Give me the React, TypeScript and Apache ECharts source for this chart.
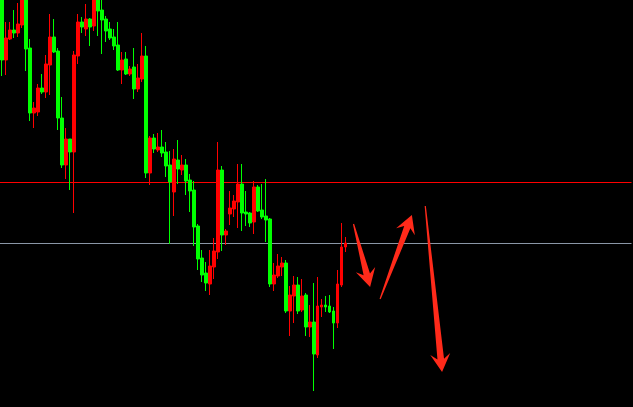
import React, { useEffect, useRef } from "react";
import * as echarts from "echarts";

// Candle prices, one entry per bar
const opens = [
  1.1403, 1.1340, 1.1361, 1.1370, 1.1367, 1.1375, 1.1403, 1.1352, 1.1287, 1.1288,
  1.1312, 1.1308, 1.1335, 1.1363, 1.1349, 1.1282, 1.1235, 1.1261, 1.1248, 1.1344,
  1.1378, 1.1371, 1.1381, 1.1374, 1.1403, 1.1390, 1.1381, 1.1371, 1.1363, 1.1355,
  1.1330, 1.1341, 1.1326, 1.1333, 1.1311, 1.1321, 1.1344, 1.1227, 1.1262, 1.1250,
  1.1253, 1.1248, 1.1235, 1.1208, 1.1240, 1.1230, 1.1235, 1.1220, 1.1210, 1.1174,
  1.1142, 1.1127, 1.1116, 1.1133, 1.1148, 1.1230, 1.1165, 1.1186, 1.1191, 1.1198,
  1.1216, 1.1188, 1.1187, 1.1178, 1.1213, 1.1190, 1.1184, 1.1181, 1.1116, 1.1124,
  1.1133, 1.1137, 1.1089, 1.1104, 1.1115, 1.1090, 1.1105, 1.1073, 1.1078, 1.1045,
  1.1093, 1.1095, 1.1094, 1.1089, 1.1077, 1.1115, 1.1153,
];
const closes = [
  1.1340, 1.1362, 1.1370, 1.1367, 1.1376, 1.1403, 1.1351, 1.1287, 1.1292, 1.1312,
  1.1308, 1.1336, 1.1363, 1.1348, 1.1282, 1.1235, 1.1261, 1.1248, 1.1345, 1.1378,
  1.1373, 1.1381, 1.1373, 1.1403, 1.1389, 1.1380, 1.1369, 1.1362, 1.1354, 1.1330,
  1.1340, 1.1326, 1.1331, 1.1311, 1.1322, 1.1344, 1.1227, 1.1262, 1.1251, 1.1253,
  1.1247, 1.1234, 1.1218, 1.1241, 1.1231, 1.1235, 1.1219, 1.1209, 1.1173, 1.1141,
  1.1125, 1.1117, 1.1134, 1.1149, 1.1230, 1.1165, 1.1169, 1.1192, 1.1199, 1.1216,
  1.1187, 1.1186, 1.1177, 1.1213, 1.1189, 1.1183, 1.1180, 1.1116, 1.1125, 1.1134,
  1.1137, 1.1089, 1.1105, 1.1115, 1.1089, 1.1104, 1.1073, 1.1078, 1.1046, 1.1094,
  1.1095, 1.1093, 1.1088, 1.1077, 1.1116, 1.1153, 1.1157,
];
const lows = [
  1.1324, 1.1325, 1.1360, 1.1362, 1.1363, 1.1372, 1.1329, 1.1279, 1.1272, 1.1284,
  1.1306, 1.1302, 1.1305, 1.1347, 1.1270, 1.1232, 1.1221, 1.1210, 1.1187, 1.1336,
  1.1367, 1.1364, 1.1354, 1.1369, 1.1364, 1.1346, 1.1358, 1.1360, 1.1350, 1.1329,
  1.1316, 1.1325, 1.1324, 1.1301, 1.1308, 1.1318, 1.1222, 1.1215, 1.1247, 1.1248,
  1.1243, 1.1223, 1.1156, 1.1184, 1.1216, 1.1225, 1.1205, 1.1188, 1.1154, 1.1130,
  1.1118, 1.1109, 1.1105, 1.1121, 1.1141, 1.1149, 1.1155, 1.1175, 1.1183, 1.1172,
  1.1169, 1.1174, 1.1173, 1.1166, 1.1188, 1.1181, 1.1158, 1.1113, 1.1109, 1.1122,
  1.1124, 1.1087, 1.1064, 1.1077, 1.1086, 1.1088, 1.1064, 1.1063, 1.1009, 1.1042,
  1.1083, 1.1088, 1.1087, 1.1051, 1.1072, 1.1113, 1.1148,
];
const highs = [
  1.1408, 1.1378, 1.1378, 1.1390, 1.1397, 1.1408, 1.1408, 1.1361, 1.1298, 1.1316,
  1.1326, 1.1345, 1.1386, 1.1381, 1.1352, 1.1303, 1.1272, 1.1261, 1.1349, 1.1386,
  1.1383, 1.1396, 1.1382, 1.1408, 1.1408, 1.1402, 1.1384, 1.1378, 1.1371, 1.1378,
  1.1348, 1.1348, 1.1334, 1.1352, 1.1336, 1.1367, 1.1354, 1.1264, 1.1266, 1.1267,
  1.1270, 1.1258, 1.1249, 1.1251, 1.1260, 1.1245, 1.1241, 1.1226, 1.1219, 1.1176,
  1.1150, 1.1138, 1.1150, 1.1162, 1.1258, 1.1234, 1.1171, 1.1209, 1.1205, 1.1236,
  1.1236, 1.1209, 1.1188, 1.1219, 1.1215, 1.1216, 1.1221, 1.1182, 1.1137, 1.1146,
  1.1143, 1.1140, 1.1114, 1.1124, 1.1123, 1.1121, 1.1107, 1.1095, 1.1117, 1.1123,
  1.1101, 1.1104, 1.1105, 1.1093, 1.1130, 1.1177, 1.1163,
];

// Horizontal price levels
const resistanceLevel = 1.12175;
const supportLevel = 1.11565;

// Total bar slots on the time axis (including empty future slots)
const TOTAL_SLOTS = 158;

// Hand-drawn arrows: [fromBar, fromPrice, toBar, toPrice]
const arrows = [
  [87.95, 1.1176, 92.1, 1.1113],
  [94.6, 1.1101, 102.55, 1.1185],
  [105.9, 1.1194, 110.1, 1.1028],
];

export default function App() {
  const ref = useRef<HTMLDivElement>(null);

  useEffect(() => {
    if (!ref.current) return;
    const chart = echarts.init(ref.current, null, { renderer: "svg" });
    const categories = Array.from({ length: TOTAL_SLOTS }, (_, i) => String(i + 1));
    const candleData = opens.map((o, i) => [o, closes[i], lows[i], highs[i]]);
    const levelLine = (level: number, color: string) => ({
      type: "line",
      xAxisIndex: 1,
      data: [
        [-0.5, level],
        [TOTAL_SLOTS - 0.5, level],
      ],
      symbol: "none",
      silent: true,
      lineStyle: { color, width: 1, type: "solid" },
      z: 1,
    });

    chart.setOption({
      animation: false,
      backgroundColor: "#000000",
      grid: { left: -0.5, top: 0, width: 632, height: 407, containLabel: false },
      xAxis: [
        { type: "category", data: categories, show: false, boundaryGap: true },
        { type: "value", min: -0.5, max: TOTAL_SLOTS - 0.5, show: false },
      ],
      yAxis: { type: "value", min: 1.0993, max: 1.14, show: false, splitLine: { show: false } },
      series: [
        levelLine(resistanceLevel, "#ff0000"),
        levelLine(supportLevel, "#8a96a6"),
        {
          type: "candlestick",
          data: candleData,
          barWidth: 3,
          z: 2,
          itemStyle: {
            color: "#ff0000",
            color0: "#00ff00",
            borderColor: "#ff0000",
            borderColor0: "#00ff00",
            borderWidth: 1,
          },
        },
        {
          type: "custom",
          xAxisIndex: 1,
          data: arrows,
          encode: { x: [0, 2], y: [1, 3] },
          silent: true,
          z: 3,
          renderItem: (params: any, api: any) => {
            const p0 = api.coord([api.value(0), api.value(1)]);
            const p1 = api.coord([api.value(2), api.value(3)]);
            const dx = p1[0] - p0[0];
            const dy = p1[1] - p0[1];
            const L = Math.hypot(dx, dy);
            const ux = dx / L;
            const uy = dy / L;
            const nx = -uy;
            const ny = ux;
            const pt = (a: number, w: number) => [p0[0] + ux * a + nx * w, p0[1] + uy * a + ny * w];
            const headLen = 18;
            const headHalf = 10;
            const neckBack = 13;
            const neckHalf = 3.3;
            const tailHalf = 0.6;
            const points = [
              pt(0, tailHalf),
              pt(L - neckBack, neckHalf),
              pt(L - headLen, headHalf),
              pt(L, 0),
              pt(L - headLen, -headHalf),
              pt(L - neckBack, -neckHalf),
              pt(0, -tailHalf),
            ];
            return {
              type: "polygon",
              shape: { points },
              style: { fill: "#ff2a1a", stroke: "none" },
            };
          },
        },
      ],
    });

    return () => {
      chart.dispose();
    };
  }, []);

  return (
    <div
      ref={ref}
      style={{ position: "absolute", left: 0, top: 0, width: 633, height: 407 }}
    />
  );
}
